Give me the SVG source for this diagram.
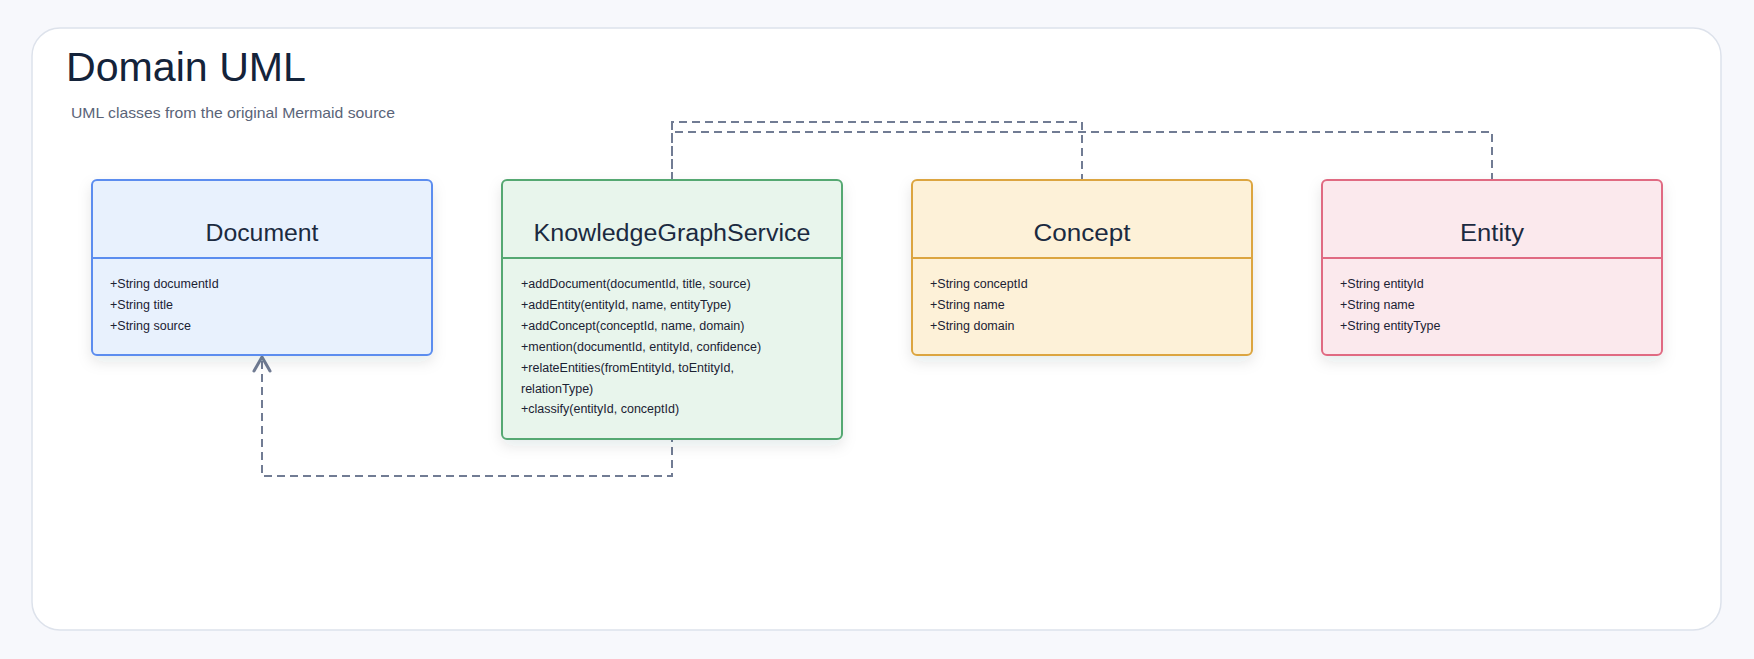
<svg xmlns="http://www.w3.org/2000/svg" width="1754" height="659" viewBox="0 0 1754 659">
  <defs>
    <style>
      .title { font-family: "Liberation Sans", Arial, sans-serif; font-size: 40px; fill: #14233a; }
      .sub { font-family: "Liberation Sans", Arial, sans-serif; font-size: 15px; fill: #5a6478; }
      .cname { font-family: "Liberation Sans", Arial, sans-serif; font-size: 23px; fill: #1b2a40; text-anchor: middle; }
      .mem { font-family: "Liberation Sans", Arial, sans-serif; font-size: 12.5px; fill: #1b2233; }
      .box { stroke-width: 2; }
      .edge { fill: none; stroke: #717c94; stroke-width: 2; stroke-dasharray: 8 5; }
    </style>
    <filter id="shadow" x="-20%" y="-20%" width="140%" height="150%">
      <feDropShadow dx="0" dy="6" stdDeviation="7" flood-color="#1e2a40" flood-opacity="0.10"/>
    </filter>
  </defs>

  <rect x="0" y="0" width="1754" height="659" fill="#f7f8fc"/>
  <rect x="32" y="28" width="1689" height="602" rx="28" ry="28" fill="#ffffff" stroke="#dde2eb" stroke-width="1.5"/>

  <text class="title" x="66" y="81" textLength="240" lengthAdjust="spacingAndGlyphs">Domain UML</text>
  <text class="sub" x="71" y="118" textLength="324" lengthAdjust="spacingAndGlyphs">UML classes from the original Mermaid source</text>

  <g id="connectors">
    <path class="edge" d="M672 122 L672 476 L262 476 L262 358" />
    <path d="M254 371 L262 357 L270 371" fill="none" stroke="#717c94" stroke-width="3" stroke-linecap="round" stroke-linejoin="round"/>
    <path class="edge" d="M672 180 L672 122 L1082 122 L1082 180" />
    <path class="edge" d="M675 132 L1492 132 L1492 180" />
  </g>

  <g id="Document">
    <rect class="box" x="92" y="180" width="340" height="175" rx="5" fill="#e8f1fd" stroke="#5b8def" filter="url(#shadow)"/>
    <line x1="92" y1="258" x2="432" y2="258" stroke="#5b8def" stroke-width="2"/>
    <text class="cname" x="262" y="241" textLength="113" lengthAdjust="spacingAndGlyphs">Document</text>
    <text class="mem" x="110" y="288">+String documentId</text>
    <text class="mem" x="110" y="309">+String title</text>
    <text class="mem" x="110" y="329.5">+String source</text>
  </g>

  <g id="KnowledgeGraphService">
    <rect class="box" x="502" y="180" width="340" height="259" rx="5" fill="#e8f5ec" stroke="#55a872" filter="url(#shadow)"/>
    <line x1="502" y1="258" x2="842" y2="258" stroke="#55a872" stroke-width="2"/>
    <text class="cname" x="672" y="241" textLength="277" lengthAdjust="spacingAndGlyphs">KnowledgeGraphService</text>
    <text class="mem" x="521" y="288.3">+addDocument(documentId, title, source)</text>
    <text class="mem" x="521" y="309.3">+addEntity(entityId, name, entityType)</text>
    <text class="mem" x="521" y="330">+addConcept(conceptId, name, domain)</text>
    <text class="mem" x="521" y="351">+mention(documentId, entityId, confidence)</text>
    <text class="mem" x="521" y="371.7">+relateEntities(fromEntityId, toEntityId,</text>
    <text class="mem" x="521" y="392.7">relationType)</text>
    <text class="mem" x="521" y="413.3">+classify(entityId, conceptId)</text>
  </g>

  <g id="Concept">
    <rect class="box" x="912" y="180" width="340" height="175" rx="5" fill="#fdf1d8" stroke="#dca540" filter="url(#shadow)"/>
    <line x1="912" y1="258" x2="1252" y2="258" stroke="#dca540" stroke-width="2"/>
    <text class="cname" x="1082" y="241" textLength="97" lengthAdjust="spacingAndGlyphs">Concept</text>
    <text class="mem" x="930" y="288">+String conceptId</text>
    <text class="mem" x="930" y="309">+String name</text>
    <text class="mem" x="930" y="329.5">+String domain</text>
  </g>

  <g id="Entity">
    <rect class="box" x="1322" y="180" width="340" height="175" rx="5" fill="#fbe9ed" stroke="#e06a82" filter="url(#shadow)"/>
    <line x1="1322" y1="258" x2="1662" y2="258" stroke="#e06a82" stroke-width="2"/>
    <text class="cname" x="1492" y="241" textLength="64" lengthAdjust="spacingAndGlyphs">Entity</text>
    <text class="mem" x="1340" y="288">+String entityId</text>
    <text class="mem" x="1340" y="309">+String name</text>
    <text class="mem" x="1340" y="329.5">+String entityType</text>
  </g>
</svg>
